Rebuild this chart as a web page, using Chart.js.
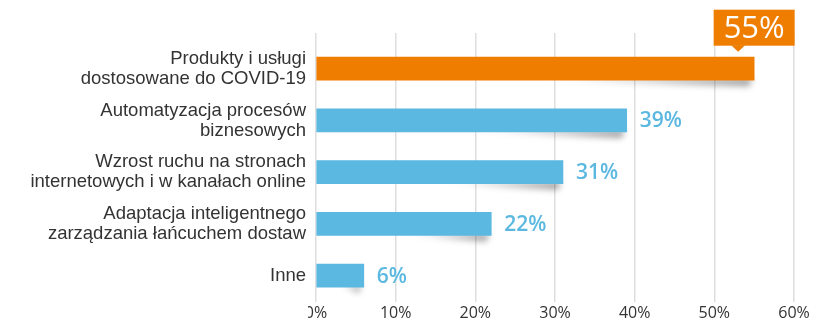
<!DOCTYPE html>
<html>
<head>
<meta charset="utf-8">
<script src="https://cdn.jsdelivr.net/npm/chart.js@4.4.1/dist/chart.umd.min.js"></script>
<style>
  html, body { margin: 0; padding: 0; background: #fff; }
  #c { display: block; }
</style>
</head>
<body>
<canvas id="c" width="814" height="332"></canvas>
<script>
// Categories (multi-line labels) and their shares in percent
const categories = [
  ['Produkty i usługi', 'dostosowane do COVID-19'],
  ['Automatyzacja procesów', 'biznesowych'],
  ['Wzrost ruchu na stronach', 'internetowych i w kanałach online'],
  ['Adaptacja inteligentnego', 'zarządzania łańcuchem dostaw'],
  ['Inne']
];
const shares = [55, 39, 31, 22, 6];
const barColors = ['#ef7d00', '#5bb8e0', '#5bb8e0', '#5bb8e0', '#5bb8e0'];
const xTicks = [0, 10, 20, 30, 40, 50, 60];
const highlightIndex = 0;

const ORANGE = '#ef7d00';
const BLUE = '#5bb8e0';

// Slot range for the category rows (top gap is larger than the bottom one)
const Y_MIN = -0.69;
const Y_MAX = categories.length - 1 + 0.51;

// Soft curled shadow under the right end of every bar
const barShadow = {
  id: 'barShadow',
  beforeDatasetsDraw(chart) {
    const ctx = chart.ctx;
    chart.getDatasetMeta(0).data.forEach(el => {
      const len = el.x - el.base;
      const bottom = el.y + el.height / 2;
      const start = el.x - len * 0.5;
      ctx.save();
      ctx.filter = 'blur(3px)';
      const g = ctx.createLinearGradient(start, 0, el.x, 0);
      g.addColorStop(0, 'rgba(0,0,0,0)');
      g.addColorStop(1, 'rgba(0,0,0,0.38)');
      ctx.fillStyle = g;
      ctx.beginPath();
      ctx.moveTo(start, bottom - 2);
      ctx.lineTo(el.x - 2, bottom - 2);
      ctx.lineTo(el.x - 5, bottom + 6);
      ctx.quadraticCurveTo(el.x - len * 0.25, bottom + 4, start, bottom - 2);
      ctx.fill();
      ctx.restore();
    });
  }
};

// Value labels: orange callout for the highlighted bar, blue text for the rest
const valueLabels = {
  id: 'valueLabels',
  afterDatasetsDraw(chart) {
    const ctx = chart.ctx;
    chart.getDatasetMeta(0).data.forEach((el, i) => {
      const text = shares[i] + '%';
      ctx.save();
      if (i === highlightIndex) {
        const w = 81, h = 36;
        const top = el.y - el.height / 2;
        const boxBottom = top - 11.5;
        const left = el.x - w / 2;
        ctx.fillStyle = ORANGE;
        ctx.fillRect(left, boxBottom - h, w, h);
        const px = el.x - 16;
        ctx.beginPath();
        ctx.moveTo(px - 7, boxBottom - 0.5);
        ctx.lineTo(px + 7, boxBottom - 0.5);
        ctx.lineTo(px, boxBottom + 6);
        ctx.closePath();
        ctx.fill();
        ctx.fillStyle = '#fff';
        ctx.font = '31px "Open Sans"';
        ctx.textAlign = 'center';
        ctx.textBaseline = 'middle';
        ctx.fillText(text, el.x, boxBottom - h / 2 + 1);
      } else {
        ctx.fillStyle = BLUE;
        ctx.font = '600 21px "Open Sans"';
        ctx.textAlign = 'left';
        ctx.textBaseline = 'middle';
        ctx.fillText(text, el.x + 13, el.y + 1);
      }
      ctx.restore();
    });
  }
};

// The label column overlaps the start of the first axis tick
const labelColumnMask = {
  id: 'labelColumnMask',
  afterDraw(chart) {
    const ctx = chart.ctx;
    const a = chart.chartArea;
    ctx.save();
    ctx.fillStyle = '#fff';
    ctx.fillRect(0, a.bottom + 2, a.left - 8, chart.height - a.bottom);
    ctx.restore();
  }
};

new Chart(document.getElementById('c'), {
  type: 'bar',
  data: {
    datasets: [{
      data: shares.map((v, i) => ({ x: v, y: i })),
      backgroundColor: barColors,
      borderWidth: 0,
      barThickness: 23
    }]
  },
  plugins: [barShadow, valueLabels, labelColumnMask],
  options: {
    indexAxis: 'y',
    responsive: false,
    devicePixelRatio: 1,
    animation: false,
    layout: { padding: { top: 33, right: 20, left: 0, bottom: 0 } },
    plugins: {
      legend: { display: false },
      tooltip: { enabled: false },
      title: { display: false }
    },
    scales: {
      x: {
        type: 'linear',
        min: xTicks[0],
        max: xTicks[xTicks.length - 1],
        afterBuildTicks(scale) {
          scale.ticks = xTicks.map(v => ({ value: v }));
        },
        afterFit(scale) { scale.height = 26; },
        grid: { color: '#dedede', lineWidth: 1.5, drawTicks: false },
        border: { display: false },
        ticks: {
          padding: 2,
          color: '#333',
          font: { family: '"Open Sans"', size: 16 },
          callback: v => v + '%'
        }
      },
      y: {
        type: 'linear',
        reverse: true,
        offset: false,
        bounds: 'data',
        min: Y_MIN,
        max: Y_MAX,
        afterBuildTicks(scale) {
          scale.ticks = categories.map((c, i) => ({ value: i }));
          scale.min = Y_MIN;
          scale.max = Y_MAX;
        },
        afterFit(scale) { scale.width = 316; },
        grid: { display: false, drawTicks: false, offset: false },
        border: { display: false },
        ticks: {
          padding: 10,
          color: '#333',
          font: { family: '"Liberation Sans", Arial, sans-serif', size: 18.5, lineHeight: 1.08 },
          callback: (v) => categories[v]
        }
      }
    }
  }
});
</script>
</body>
</html>
